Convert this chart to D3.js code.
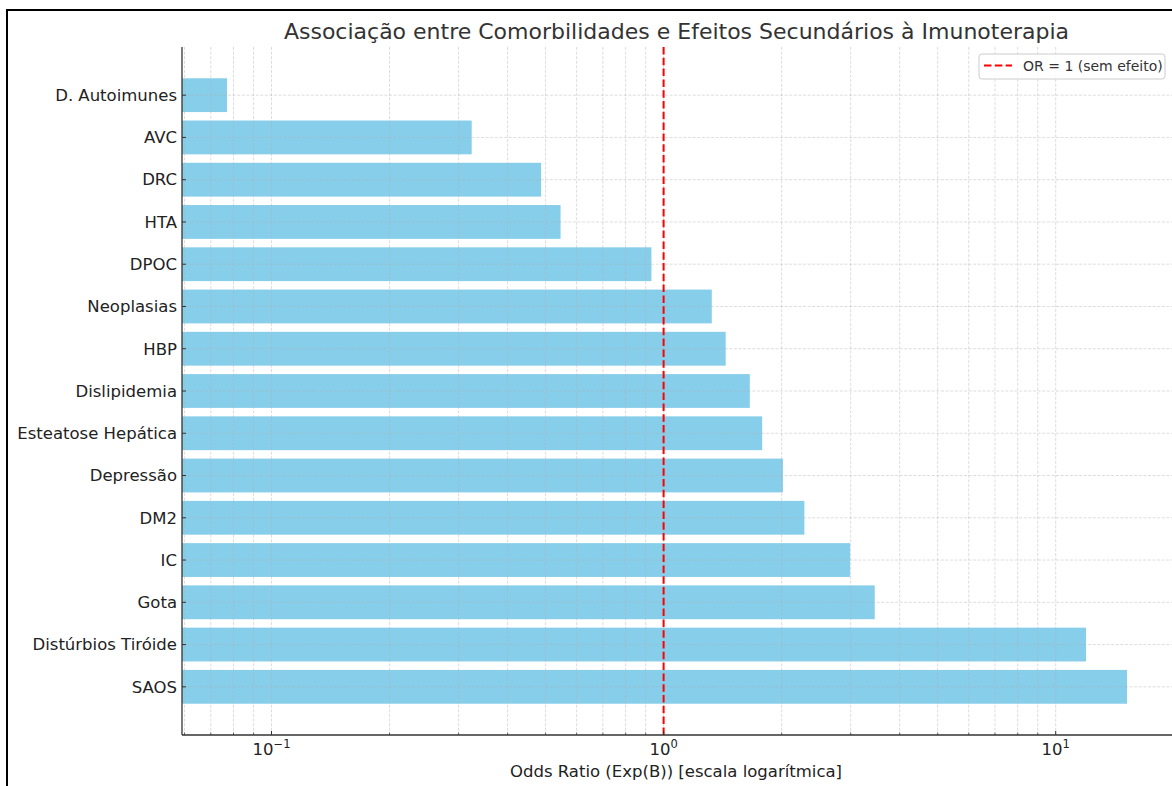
<!DOCTYPE html>
<html>
<head>
<meta charset="utf-8">
<script src="https://cdn.jsdelivr.net/npm/d3@7"></script>
<style>
  html, body { margin: 0; padding: 0; background: #fff; }
  svg { display: block; font-family: "DejaVu Sans", sans-serif; }
</style>
</head>
<body>
<svg id="chart" width="1172" height="786"></svg>
<script>
// Comorbidities, top to bottom
const categories = [
  "D. Autoimunes", "AVC", "DRC", "HTA", "DPOC", "Neoplasias", "HBP",
  "Dislipidemia", "Esteatose Hepática", "Depressão", "DM2", "IC", "Gota",
  "Distúrbios Tiróide", "SAOS"
];
// Odds ratio (Exp(B)) for each comorbidity
const oddsRatios = [
  0.077, 0.324, 0.487, 0.546, 0.931, 1.327, 1.44,
  1.659, 1.784, 2.015, 2.286, 2.99, 3.455,
  11.95, 15.2
];
// Major tick values on the log axis and their exponents
const majorTicks = [0.1, 1, 10];
const majorExponents = ["−1", "0", "1"];
const referenceOR = 1;

const title = "Associação entre Comorbilidades e Efeitos Secundários à Imunoterapia";
const xLabel = "Odds Ratio (Exp(B)) [escala logarítmica]";
const legendLabel = "OR = 1 (sem efeito)";

const svg = d3.select("#chart");
const plot = { left: 182, right: 1172, top: 47, bottom: 735 };

// Log domain padded by 5% of the data span on each side
const lo = Math.log10(d3.min(oddsRatios)), hi = Math.log10(d3.max(oddsRatios));
const pad = (hi - lo) * 0.05;
const x = d3.scaleLog()
  .domain([Math.pow(10, lo - pad), Math.pow(10, hi + pad)])
  .range([plot.left, plot.right]);

// Category positions: index space padded like the bars (±0.4) plus 5%
const n = categories.length;
const yPad = (n - 1 + 0.8) * 0.05;
const y = d3.scaleLinear()
  .domain([-0.4 - yPad, n - 1 + 0.4 + yPad])
  .range([plot.top, plot.bottom]);
const barH = y(0.8) - y(0);

// Figure frame
svg.append("rect")
  .attr("x", 7).attr("y", 10).attr("width", 1200).attr("height", 800)
  .attr("fill", "none").attr("stroke", "#000").attr("stroke-width", 2);

// Bars
svg.append("g").selectAll("rect")
  .data(oddsRatios)
  .join("rect")
  .attr("x", plot.left)
  .attr("y", (d, i) => y(i) - barH / 2)
  .attr("width", d => x(d) - plot.left)
  .attr("height", barH)
  .attr("fill", "#87ceeb");

// Grid (drawn above bars)
const allTicks = x.ticks().filter(t => x(t) >= plot.left - 0.5 && x(t) <= plot.right);
const grid = svg.append("g")
  .attr("stroke", "#b0b0b0").attr("stroke-opacity", 0.55)
  .attr("stroke-width", 0.8).attr("stroke-dasharray", "3,1.6");
grid.selectAll("line.v").data(allTicks).join("line")
  .attr("class", "v")
  .attr("x1", d => x(d)).attr("x2", d => x(d))
  .attr("y1", plot.top).attr("y2", plot.bottom);
grid.selectAll("line.h").data(categories).join("line")
  .attr("class", "h")
  .attr("x1", plot.left).attr("x2", plot.right)
  .attr("y1", (d, i) => y(i)).attr("y2", (d, i) => y(i));

// Reference line at OR = 1
svg.append("line")
  .attr("x1", x(referenceOR)).attr("x2", x(referenceOR))
  .attr("y1", plot.top).attr("y2", plot.bottom)
  .attr("stroke", "#ff0000").attr("stroke-width", 2)
  .attr("stroke-dasharray", "7.5,3.3");

// Spines
svg.append("line")
  .attr("x1", plot.left).attr("x2", plot.left)
  .attr("y1", plot.top).attr("y2", plot.bottom)
  .attr("stroke", "#333").attr("stroke-width", 1.3);
svg.append("line")
  .attr("x1", plot.left).attr("x2", plot.right)
  .attr("y1", plot.bottom).attr("y2", plot.bottom)
  .attr("stroke", "#333").attr("stroke-width", 1.3);

// X ticks (inward)
const xt = svg.append("g").attr("stroke", "#333");
xt.selectAll("line").data(allTicks).join("line")
  .attr("x1", d => x(d)).attr("x2", d => x(d))
  .attr("y1", plot.bottom)
  .attr("y2", d => plot.bottom - (majorTicks.includes(d) ? 4 : 2.5))
  .attr("stroke-width", d => majorTicks.includes(d) ? 1 : 0.7);

// X tick labels as 10^k
const xl = svg.append("g").attr("fill", "#222");
majorTicks.forEach((t, i) => {
  const txt = xl.append("text")
    .attr("x", x(t)).attr("y", 755)
    .attr("text-anchor", "middle")
    .attr("font-size", 16.5);
  txt.append("tspan").text("10");
  txt.append("tspan").attr("dy", -7).attr("font-size", 11.5).text(majorExponents[i]);
});

// Y ticks and labels
const yt = svg.append("g");
yt.selectAll("line").data(categories).join("line")
  .attr("x1", plot.left).attr("x2", plot.left + 4)
  .attr("y1", (d, i) => y(i)).attr("y2", (d, i) => y(i))
  .attr("stroke", "#333").attr("stroke-width", 1);
yt.selectAll("text").data(categories).join("text")
  .attr("x", plot.left - 5)
  .attr("y", (d, i) => y(i))
  .attr("dy", "0.35em")
  .attr("text-anchor", "end")
  .attr("font-size", 16.5)
  .attr("fill", "#222")
  .text(d => d);

// Title and axis label
svg.append("text")
  .attr("x", (plot.left + plot.right) / 2 - 0.5).attr("y", 39)
  .attr("text-anchor", "middle")
  .attr("font-size", 22)
  .attr("fill", "#333")
  .text(title);
svg.append("text")
  .attr("x", 676).attr("y", 777)
  .attr("text-anchor", "middle")
  .attr("font-size", 16.5)
  .attr("fill", "#222")
  .text(xLabel);

// Legend
const lg = svg.append("g");
lg.append("rect")
  .attr("x", 979).attr("y", 54).attr("width", 186).attr("height", 25)
  .attr("rx", 3)
  .attr("fill", "#fff").attr("fill-opacity", 0.8)
  .attr("stroke", "#ccc").attr("stroke-width", 1);
lg.append("line")
  .attr("x1", 984).attr("x2", 1012).attr("y1", 65.5).attr("y2", 65.5)
  .attr("stroke", "#ff0000").attr("stroke-width", 2)
  .attr("stroke-dasharray", "7.5,3.3");
lg.append("text")
  .attr("x", 1023).attr("y", 70.5)
  .attr("font-size", 14)
  .attr("fill", "#333")
  .text(legendLabel);
</script>
</body>
</html>
